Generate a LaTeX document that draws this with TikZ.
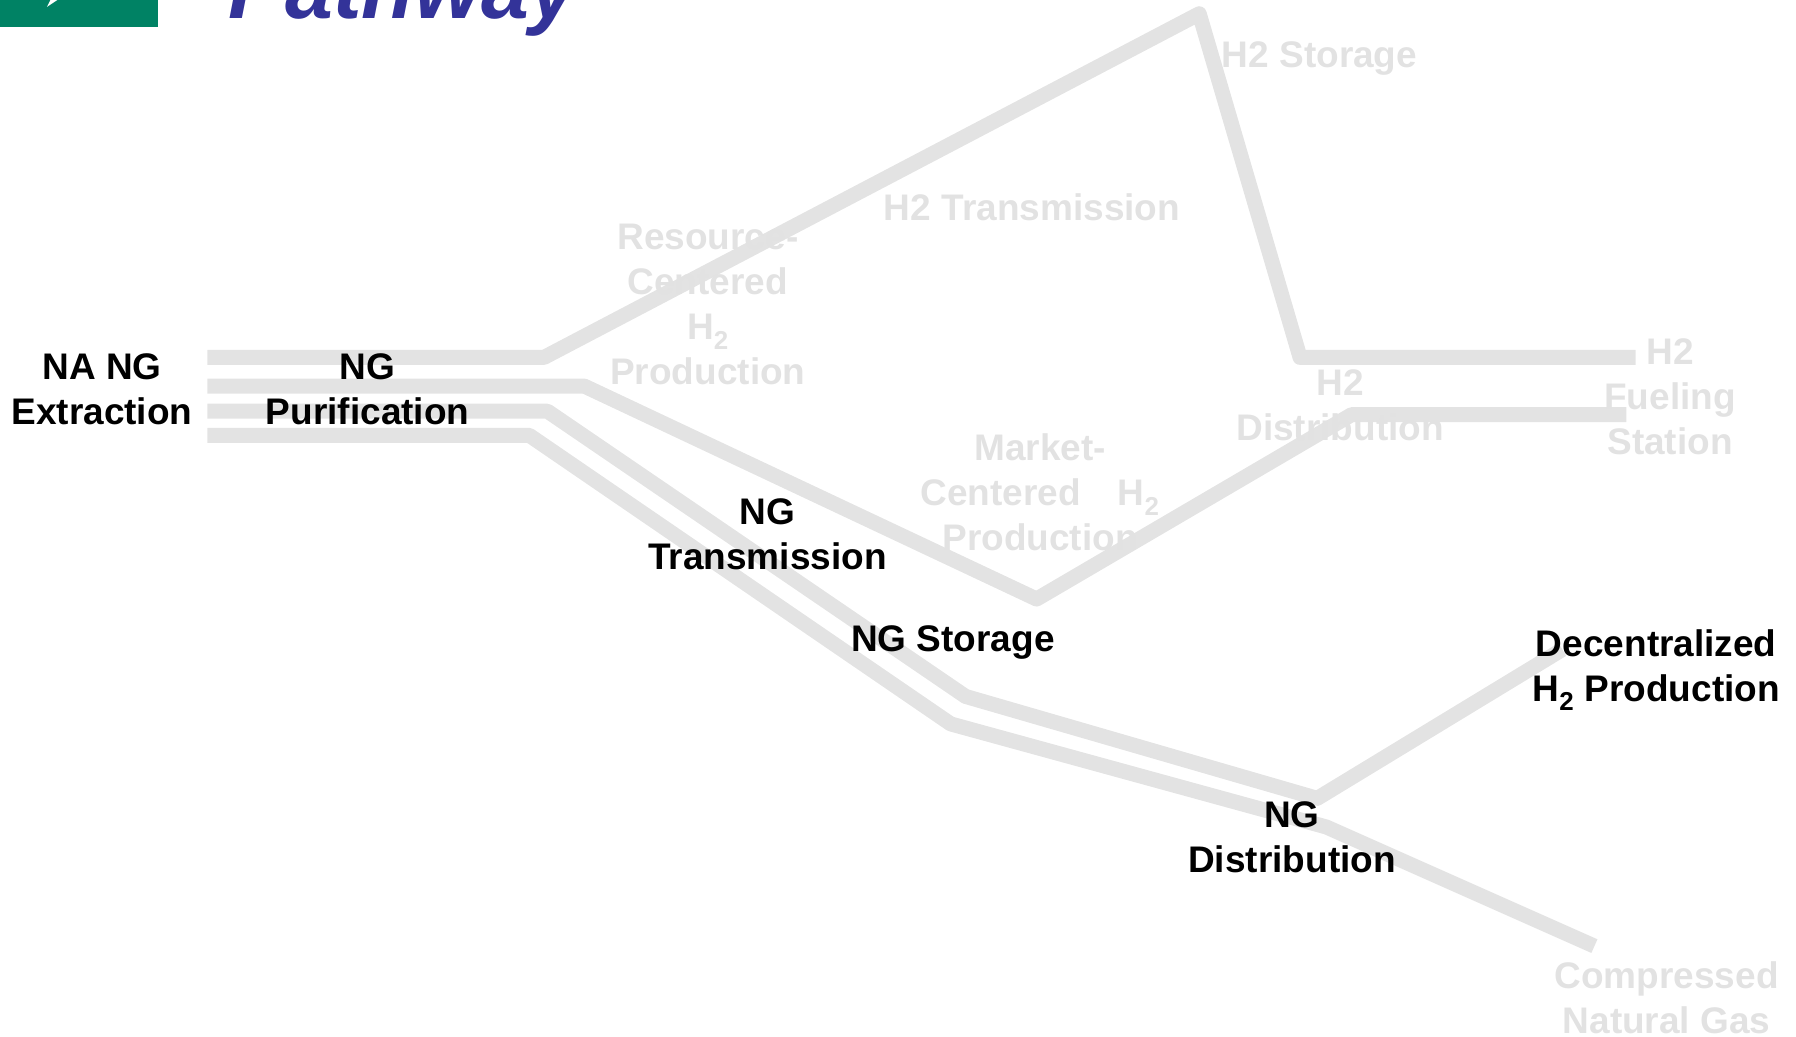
\documentclass[tikz,border=0pt]{standalone}
\usepackage{fontspec}
\setmainfont{Liberation Sans}
\definecolor{pipe}{RGB}{227,227,227}
\definecolor{faint}{RGB}{226,226,226}
\definecolor{titleblue}{RGB}{51,51,153}
\definecolor{logogreen}{RGB}{0,130,100}
\begin{document}
\begin{tikzpicture}[x=1.1454pt,y=-1.1454pt,
  pipeline/.style={draw=pipe,line width=15pt,line join=round,line cap=butt},
  lbl/.style={font=\fontsize{37}{45}\selectfont\bfseries,align=center,inner sep=0pt},
  dark/.style={lbl,text=black},
  pale/.style={lbl,text=faint}]
\useasboundingbox (0,0) rectangle (1568,905);
\clip (0,0) rectangle (1568,905);
% logo and title (cut off at top)
\fill[logogreen] (0,-5) rectangle (138,24);
\fill[white] (45,-2) -- (53,-2) -- (41,6) -- cycle;
\node[anchor=base west,inner sep=0pt,text=titleblue,font=\fontsize{86}{96}\selectfont\bfseries\itshape] (title) at (199,16) {Pathway};
% coordinates
\coordinate (a0) at (181,312); \coordinate (a1) at (475,312); \coordinate (a2) at (1047,12);
\coordinate (a3) at (1135,312); \coordinate (a4) at (1428,312);
\coordinate (b0) at (181,337); \coordinate (b1) at (510,337); \coordinate (b2) at (905,523);
\coordinate (b3) at (1180,362); \coordinate (b4) at (1420,362);
\coordinate (c0) at (181,359); \coordinate (c1) at (478,359); \coordinate (c2) at (843,608);
\coordinate (c3) at (1150,697); \coordinate (c4) at (1364,567);
\coordinate (d0) at (181,380); \coordinate (d1) at (462,380); \coordinate (d2) at (830,632);
\coordinate (d3) at (1158,722); \coordinate (d4) at (1392,826);
% pipelines
\draw[pipeline] (a0) -- (a1) -- (a2) -- (a3) -- (a4);
\draw[pipeline] (b0) -- (b1) -- (b2) -- (b3) -- (b4);
\draw[pipeline] (c0) -- (c1) -- (c2) -- (c3) -- (c4);
\draw[pipeline] (d0) -- (d1) -- (d2) -- (d3) -- (d4);
% labels
\node[dark] (ext) at (89,340) {NA NG\\Extraction};
\node[dark] (pur) at (321,340) {NG\\Purification};
\node[pale] (rc) at (618,266) {Resource-\\Centered\\H\textsubscript{2}\\Production};
\node[pale] (h2t) at (901,181) {H2 Transmission};
\node[pale] (h2s) at (1152,51) {H2 Storage};
\node[pale] (h2f) at (1458,346) {H2\\Fueling\\Station};
\node[pale] (h2d) at (1170,354) {H2\\Distribution};
\node[pale] (mc) at (908,430) {Market-\\Centered\quad H\textsubscript{2}\\Production};
\node[dark] (ngt) at (670,466) {NG\\Transmission};
\node[dark] (ngs) at (832,561) {NG Storage};
\node[dark] (ngd) at (1128,731) {NG\\Distribution};
\node[dark] (dec) at (1446,585) {Decentralized\\H\textsubscript{2} Production};
\node[pale] (cng) at (1455,871) {Compressed\\Natural Gas};
\end{tikzpicture}
\end{document}
